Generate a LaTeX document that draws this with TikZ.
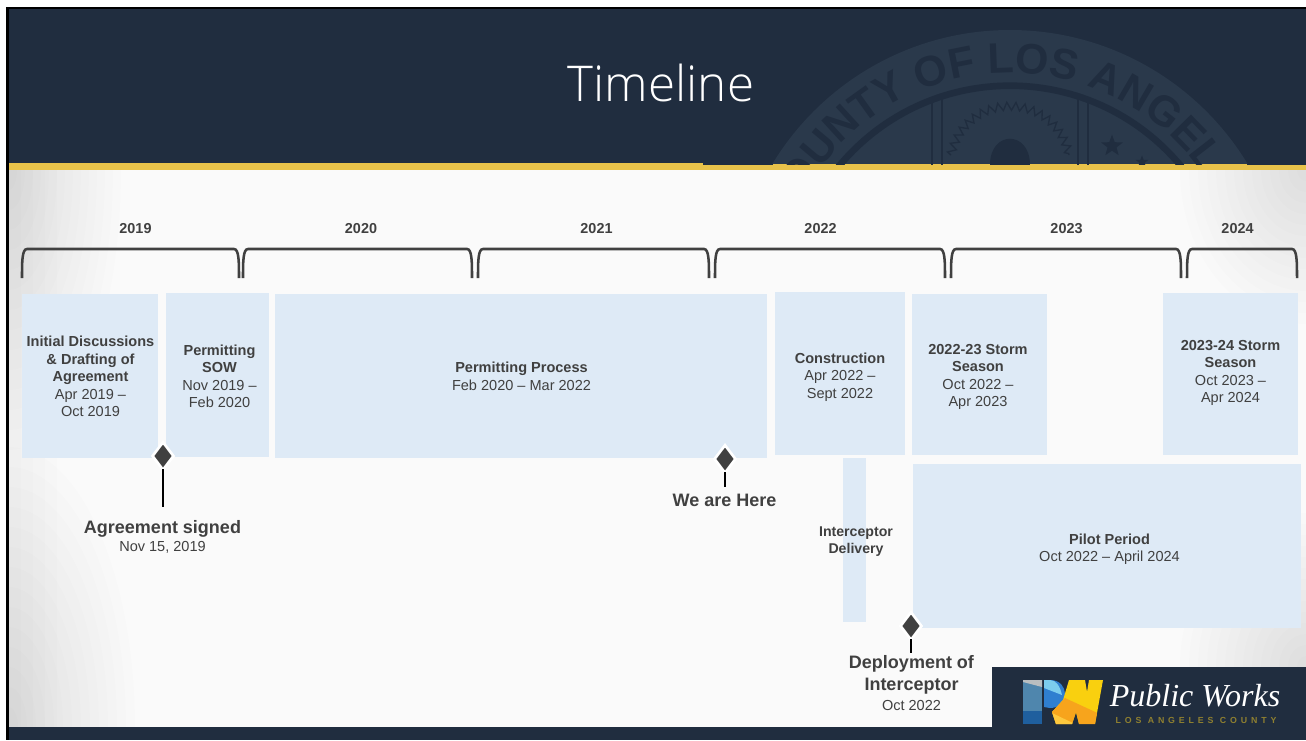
\documentclass[tikz,border=0pt]{standalone}
\usepackage{fontspec}
\setmainfont{Liberation Sans}
\newfontfamily\titlefont{Open Sans Light}
\newfontfamily\logofont{Liberation Serif}
\newfontfamily\spacedfont[LetterSpace=44]{Liberation Sans}
\usetikzlibrary{shapes.geometric, decorations.text, decorations.pathmorphing}
\definecolor{navy}{HTML}{202D3F}
\definecolor{sealc}{HTML}{2A394B}
\definecolor{gold}{HTML}{E8C24A}
\definecolor{boxc}{HTML}{DEEAF6}
\definecolor{inkc}{HTML}{404040}
\definecolor{paper}{HTML}{FAFAFA}
\definecolor{logoa}{HTML}{1F5F9E}
\definecolor{logob}{HTML}{4F86AD}
\definecolor{logoc}{HTML}{B9BEC0}
\definecolor{logod}{HTML}{2F7FD0}
\definecolor{logoe}{HTML}{7CCDEE}
\definecolor{logof}{HTML}{F9D00F}
\definecolor{logog}{HTML}{F7A41C}
\definecolor{logoh}{HTML}{FDC83E}
\definecolor{logoi}{HTML}{8F8030}
\tikzset{
  phase/.style={fill=boxc, draw=none},
  txt/.style={text=inkc, align=center, inner sep=0pt, font=\fontsize{10.9}{13.1}\selectfont},
  yearlab/.style={text=inkc, inner sep=0pt, font=\fontsize{10.8}{13}\selectfont\bfseries},
  bigtxt/.style={text=inkc, align=center, inner sep=0pt, font=\fontsize{13.5}{16.5}\selectfont},
  milepin/.style={shape=diamond, fill=inkc, draw=white, line width=2pt, inner sep=0pt, minimum width=16.5pt, minimum height=21.5pt},
  stemline/.style={draw=black, line width=1.1pt, shorten <=-2pt},
  yearbrace/.style={draw=inkc, line width=1.9pt},
  shadestep/.style={fill=black, opacity=.006}
}
\begin{document}
\begin{tikzpicture}[x=.75pt,y=-.75pt]
\useasboundingbox (0,0) rectangle (1306,740);
\fill[white] (0,0) rectangle (1306,740);
% page and corners
\begin{scope}
\clip (9,170) rectangle (1306,727);
\fill[paper] (9,170) rectangle (1306,727);
\foreach \k in {1,...,14}{
  \fill[shadestep] (9,170) ellipse ({8*\k} and {20*\k});
  \fill[shadestep] (9,727) ellipse ({9*\k} and {20*\k});
  \fill[shadestep] (1306,170) ellipse ({9*\k} and {11*\k});
  \fill[shadestep] (1306,667) ellipse ({9*\k} and {11*\k});
}
\foreach \k in {1,...,4}{
  \fill[shadestep] (9,170) rectangle (9+12*\k,727);
}
\end{scope}
% header
\fill[gold] (9,163) rectangle (1306,170);
\fill[navy] (9,9) rectangle (1306,163);
\fill[navy] (703,163) rectangle (773,165);
\fill[navy] (1247,163) rectangle (1306,165);
\begin{scope}
\clip (703,9) rectangle (1306,163);
\fill[sealc] (1010,307.7) circle (277.7);
\end{scope}
\begin{scope}
\clip (703,9) rectangle (1306,164.5);
\draw[navy, line width=5pt] (1010,307.7) circle (222);
\path[decorate, decoration={text along path, text align=center,
  text={|\fontsize{32}{32}\selectfont\bfseries\color{navy}|OUNTY OF LOS ANGEL}}]
  (775.4,320.8) arc[start angle=176.8, end angle=356.8, radius=235];
\draw[navy, line width=1.5pt] (932,99) -- (932,165) (942,96) -- (942,165);
\draw[navy, line width=1.5pt] (1078,96) -- (1078,165) (1088,99) -- (1088,165);
\draw[navy, line width=1pt, decorate, decoration={zigzag, segment length=6.5pt, amplitude=3pt}]
  (951,155) .. controls (965,90) and (1055,90) .. (1069,155);
\fill[navy] (990,165) .. controls (990,130) and (1030,130) .. (1030,165) -- cycle;
\node[star, star points=5, star point ratio=2.4, fill=navy, inner sep=0pt, minimum size=17pt] (sealstar) at (1112,146) {};
\node[star, star points=5, star point ratio=2.4, fill=navy, inner sep=0pt, minimum size=10pt] (sealstarb) at (1142,162) {};
\end{scope}
\fill[black] (6,7) rectangle (1306,9);
\fill[black] (6,7) rectangle (9,740);
\node[text=white, inner sep=0pt, font=\fontsize{37}{37}\selectfont\titlefont] (title) at (661,83) {Timeline};
% year braces
\foreach \na/\xa/\xb/\lx/\yr in {y1/22/239/135.5/2019,y2/243/472/361/2020,y3/478/709/596.5/2021,y4/715/945/820.5/2022,y5/951/1181/1066.5/2023,y6/1187/1297/1237.5/2024}{
  \draw[yearbrace] (\xa,278) .. controls (\xa,262) and (\xa,249) .. (\xa+5,249) -- (\xb-5,249) .. controls (\xb,249) and (\xb,262) .. (\xb,278);
  \node[yearlab] (\na) at (\lx,228.5) {\yr};
}
% phases
\fill[phase] (22,294) rectangle (158,458);
\fill[phase] (166,293) rectangle (269,457);
\fill[phase] (275,294) rectangle (767,458);
\fill[phase] (775,292) rectangle (905,455);
\fill[phase] (912,294) rectangle (1047,455);
\fill[phase] (1163,293) rectangle (1298,455);
\fill[phase] (843,458) rectangle (866,622);
\fill[phase] (913,464) rectangle (1301,628);
\node[txt] (p1) at (90.5,376.5) {\textbf{Initial Discussions}\\\textbf{\& Drafting of}\\\textbf{Agreement}\\Apr 2019 --\\Oct 2019};
\node[txt] (p2) at (219.5,376.5) {\textbf{Permitting}\\\textbf{SOW}\\Nov 2019 --\\Feb 2020};
\node[txt] (p3) at (521.5,376.5) {\textbf{Permitting Process}\\Feb 2020 -- Mar 2022};
\node[txt] (p4) at (840,377) {\textbf{Construction}\\Apr 2022 --\\Sept 2022};
\node[txt] (p5) at (978,377) {\textbf{2022-23 Storm}\\\textbf{Season}\\Oct 2022 --\\Apr 2023};
\node[txt] (p6) at (1230.5,373) {\textbf{2023-24 Storm}\\\textbf{Season}\\Oct 2023 --\\Apr 2024};
\node[txt, font=\fontsize{10.6}{12.7}\selectfont] (p7) at (856,542) {\textbf{Interceptor}\\\textbf{Delivery}};
\node[txt] (p8) at (1109.5,549) {\textbf{Pilot Period}\\Oct 2022 -- April 2024};
% milestones
\node[milepin] (m1) at (163,456) {};
\node[milepin] (m2) at (725,459) {};
\node[milepin] (m3) at (911,626) {};
\node[bigtxt] (l1) at (162.5,537) {\textbf{Agreement signed}\\[-3pt]{\fontsize{10.9}{13}\selectfont Nov 15, 2019}};
\node[bigtxt, font=\fontsize{13.5}{15}\selectfont\bfseries] (l2) at (724.5,500) {We are Here};
\node[bigtxt] (l3) at (911.5,683) {\textbf{Deployment of}\\\textbf{Interceptor}\\[-2pt]{\fontsize{10.9}{13}\selectfont Oct 2022}};
\coordinate (s1) at (163,507);
\coordinate (s2) at (725,487);
\coordinate (s3) at (911,653);
\draw[stemline] (m1) -- (s1);
\draw[stemline] (m2) -- (s2);
\draw[stemline] (m3) -- (s3);
% logo
\fill[navy] (992,667) rectangle (1306,727);
\fill[navy] (9,727) rectangle (1306,740);
\fill[logoa] (1023,680) rectangle (1042,724);
\fill[logob] (1023,680) rectangle (1042,711);
\fill[logoc] (1023,680) -- (1042,680) -- (1042,687) -- (1023,682) -- cycle;
\fill[logod] (1044,680) -- (1050,680) .. controls (1070,680) and (1070,708) .. (1050,708) -- (1044,707) -- cycle;
\fill[logoe] (1044,680) -- (1050,680) .. controls (1056,680) and (1060,686) .. (1062,695) -- (1044,688) -- cycle;
\begin{scope}
\clip (1069,680) -- (1085,680) -- (1087,692) -- (1089,680) -- (1103,680) -- (1095,724) -- (1079,724) -- (1076,712) -- (1072,724) -- (1056,724) -- (1052,712) -- (1063,700) -- cycle;
\fill[logof] (1050,680) rectangle (1104,724);
\fill[logog] (1050,712) -- (1065,698) -- (1104,716) -- (1104,724) -- (1050,724) -- cycle;
\fill[logoh] (1050,712) -- (1104,738) -- (1050,738) -- cycle;
\end{scope}
\node[text=white, inner sep=0pt, font=\fontsize{24}{24}\selectfont\logofont\itshape] (pw) at (1195,696) {Public Works};
\node[text=logoi, inner sep=0pt, font=\fontsize{6.6}{7}\selectfont\spacedfont\bfseries] (la) at (1196,720) {LOS ANGELES COUNTY};
\end{tikzpicture}
\end{document}
